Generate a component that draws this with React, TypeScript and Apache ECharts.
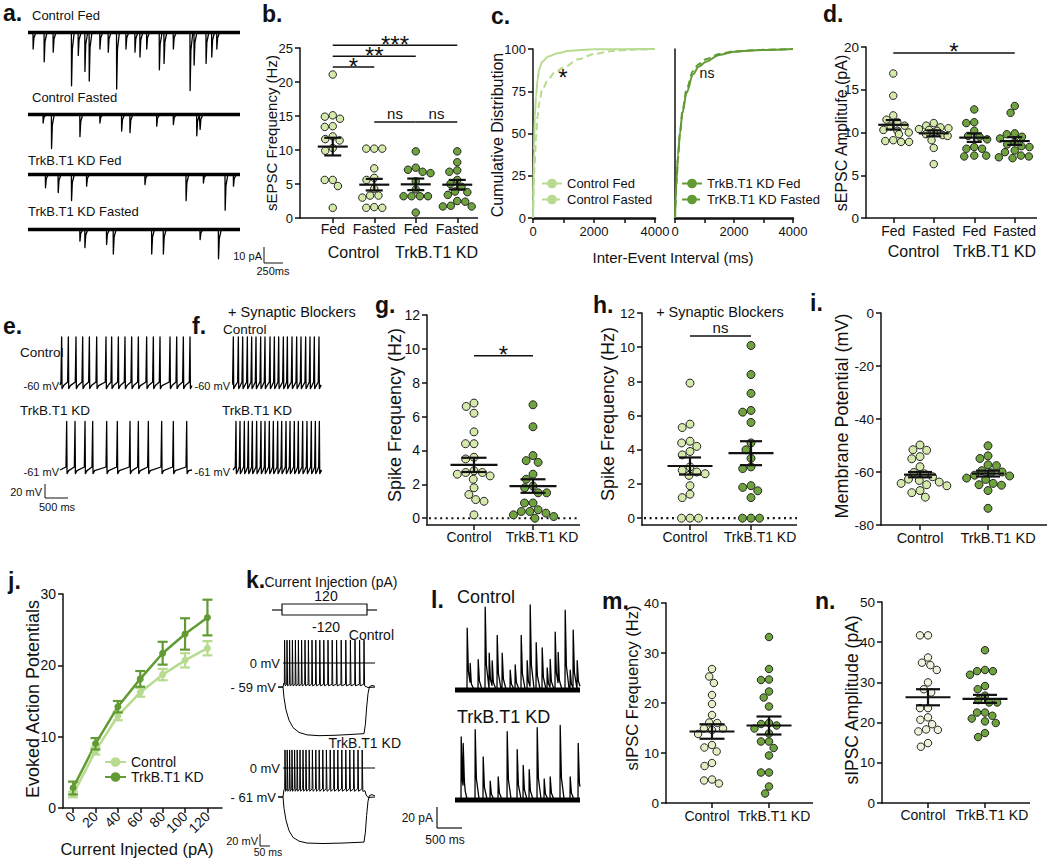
import React, { useEffect, useRef } from 'react';
import * as echarts from 'echarts';

const FONT = '"Liberation Sans", Arial, Helvetica, sans-serif';
const NARROW = '"Liberation Sans Narrow", "Liberation Sans", Arial, sans-serif';
const INK = '#111111';
const FILL_CTRL = '#d5e9ab';
const FILL_CTRL_M = '#e2eec4';
const FILL_CTRL_N = '#eef4dc';
const FILL_KD = '#6ea33d';
const LINE_CTRL = '#b7db8f';
const LINE_KD = '#629a34';

// ---------- a. sEPSC example traces: [time ms, amplitude pA] ----------
const aTraceLabels = ['Control Fed', 'Control Fasted', 'TrkB.T1 KD Fed', 'TrkB.T1 KD Fasted'];
const aControlFedEvents = [[66, 10], [212, 18], [331, 12], [573, 33], [662, 14], [750, 24], [807, 30], [948, 10], [1058, 12], [1169, 35], [1292, 10], [1411, 12], [1477, 15], [1566, 10], [1733, 23], [1795, 19], [1918, 10], [2139, 36], [2192, 20], [2350, 19], [2425, 15], [2492, 10]];
const aControlFastedEvents = [[198, 5], [309, 21], [684, 13.5], [948, 5], [1235, 10], [1345, 11], [1698, 7], [1918, 6], [2227, 13], [2271, 9]];
const aKdFedEvents = [[229, 8], [397, 11], [573, 16], [772, 7], [1543, 6], [2086, 16], [2315, 5], [2602, 22], [2712, 7]];
const aKdFastedEvents = [[684, 7], [750, 11], [1036, 9], [1125, 15], [1632, 15], [1786, 15], [2271, 6], [2514, 18]];

// ---------- b. sEPSC frequency (Hz) ----------
const bGroupKeys = ['Control Fed', 'Control Fasted', 'TrkB.T1 KD Fed', 'TrkB.T1 KD Fasted'];
const bTickLabels = ['Fed', 'Fasted', 'Fed', 'Fasted'];
const bGroupLabels = ['Control', 'TrkB.T1 KD'];
const bControlFed = [21.1, 15.1, 14.9, 14.6, 13.5, 13.4, 12.0, 11.6, 11.4, 10.3, 9.9, 5.6, 5.6, 4.7, 1.5];
const bControlFasted = [10.2, 10.2, 10.2, 7.3, 5.9, 5.6, 4.3, 3.3, 3.3, 3.0, 1.6, 1.5, 1.5];
const bKdFed = [9.8, 7.4, 7.1, 6.8, 6.6, 5.4, 4.2, 3.2, 3.2, 3.2, 3.2, 0.8];
const bKdFasted = [9.8, 8.2, 7.0, 6.8, 5.6, 5.0, 4.6, 3.9, 3.8, 3.4, 2.5, 2.4, 1.8, 1.7, 1.7];
const bMeans = [10.5, 4.9, 4.95, 4.9];
const bSems = [1.3, 0.85, 0.85, 0.7];
const bTicks = [0, 5, 10, 15, 20, 25];
const bSig = [[0, 1, 22.2], [0, 2, 23.8], [0, 3, 25.4], [1, 2, 14.1], [2, 3, 14.1]];
const bSigLabels = ['*', '**', '***', 'ns', 'ns'];

// ---------- c. cumulative distributions: [inter-event interval ms, %] ----------
const cControlFed = [[0, 0], [30, 40], [60, 60], [100, 72], [150, 82], [200, 88], [300, 92.5], [500, 95.5], [800, 97.5], [1200, 99], [2000, 99.8], [4000, 100]];
const cControlFasted = [[0, 0], [50, 30], [100, 48], [150, 60], [200, 68], [300, 76], [500, 82], [700, 86], [1000, 89], [1500, 94], [2000, 97], [2600, 98.8], [3200, 99.6], [4000, 100]];
const cKdFed = [[0, 0], [50, 22], [100, 37], [167, 50], [250, 62], [390, 74], [611, 85], [800, 89.5], [1055, 92.5], [1500, 96.5], [2000, 98.4], [2944, 99.4], [4000, 100]];
const cKdFasted = [[0, 0], [50, 20], [100, 35], [167, 50], [250, 63], [390, 76], [611, 87], [800, 91], [1055, 94], [1500, 97], [2000, 98.6], [2944, 99.5], [4000, 100]];
const cYTicks = [0, 25, 50, 75, 100];
const cXTicks = [0, 1000, 2000, 3000, 4000];
const cXLabels = [0, 2000, 4000];

// ---------- d. sEPSC amplitude (pA) ----------
const dControlFed = [16.9, 14.3, 12.0, 11.5, 11.2, 10.8, 10.7, 10.3, 10.2, 10.0, 9.8, 9.1, 9.0, 8.9, 8.9];
const dControlFasted = [11.1, 10.8, 10.6, 10.5, 10.4, 10.3, 10.2, 10.0, 9.8, 9.7, 9.6, 9.1, 8.2, 6.3];
const dKdFed = [12.7, 11.2, 11.1, 10.2, 9.6, 9.5, 9.2, 8.3, 8.1, 8.1, 7.3, 7.2, 7.3];
const dKdFasted = [13.1, 12.3, 9.9, 9.8, 9.5, 9.3, 8.9, 8.6, 8.4, 8.3, 7.9, 7.7, 7.3, 7.2, 7.1, 7.0];
const dMeans = [10.9, 9.9, 9.4, 9.0];
const dSems = [0.55, 0.35, 0.5, 0.45];
const dTicks = [0, 5, 10, 15, 20];
const dSig = [[0, 3, 19.3]];
const dSigLabels = ['*'];

// ---------- e / f. firing traces: spike times (ms) ----------
const eControlSpikes = [36, 181, 347, 492, 637, 796, 998, 1121, 1266, 1410, 1555, 1700, 1880, 2025, 2170, 2387, 2532, 2676, 2821];
const eKdSpikes = [145, 326, 543, 709, 1013, 1244, 1519, 1700, 1917, 2206, 2459, 2749];
const fControlSpikes = [7, 116, 210, 311, 405, 499, 600, 694, 803, 897, 991, 1092, 1179, 1280, 1381, 1475, 1576, 1670, 1764, 1865];
const fKdSpikes = [65, 152, 246, 333, 419, 513, 607, 694, 788, 875, 969, 1056, 1150, 1237, 1330, 1417, 1511, 1605, 1699, 1786, 1873];

// ---------- g / h. spike frequency (Hz) ----------
const twoGroups = ['Control', 'TrkB.T1 KD'];
const spikeTicks = [0, 2, 4, 6, 8, 10, 12];
const gControl = [6.8, 6.6, 6.2, 5.1, 4.4, 4.4, 3.6, 3.5, 2.8, 2.7, 2.7, 2.6, 2.5, 2.3, 1.8, 1.4, 1.1, 1.0, 0.2];
const gKd = [6.7, 5.4, 3.7, 3.4, 3.3, 2.6, 2.3, 1.9, 1.8, 1.5, 1.5, 0.9, 0.9, 0.5, 0.4, 0.4, 0.3, 0.2, 0.1, 0.0];
const gMeans = [3.15, 1.9];
const gSems = [0.42, 0.4];
const gSig = [[0, 1, 9.6]];
const gSigLabels = ['*'];
const hControl = [7.9, 5.5, 5.3, 4.5, 4.4, 4.2, 3.9, 3.7, 3.0, 2.8, 2.7, 2.6, 2.5, 1.9, 1.4, 1.2, 0, 0, 0];
const hKd = [10.1, 8.4, 7.3, 6.3, 6.2, 5.6, 4.4, 4.0, 3.5, 3.0, 2.9, 1.9, 1.8, 1.6, 1.2, 0, 0, 0];
const hMeans = [3.05, 3.8];
const hSems = [0.5, 0.7];
const hSig = [[0, 1, 10.65]];
const hSigLabels = ['ns'];

// ---------- i. membrane potential (mV) ----------
const iTicks = [-80, -60, -40, -20, 0];
const iControl = [-49.8, -51.6, -51.8, -54.2, -55.0, -58.0, -60.2, -60.7, -61.8, -62.7, -63.2, -63.8, -64.3, -64.8, -65.2, -67.0, -67.8, -69.5];
const iKd = [-50.1, -53.9, -54.9, -57.3, -57.6, -59.5, -60.0, -60.3, -61.2, -61.5, -62.3, -62.8, -64.3, -64.8, -65.0, -67.0, -73.7];
const iMeans = [-61.0, -60.6];
const iSems = [1.0, 1.1];

// ---------- j. evoked action potentials ----------
const jCurrents = [0, 20, 40, 60, 80, 100, 120];
const jControlMean = [1.9, 8.0, 12.9, 16.2, 18.7, 20.7, 22.4];
const jControlSem = [0.4, 0.5, 0.6, 0.6, 0.8, 1.0, 1.0];
const jKdMean = [2.8, 9.0, 14.2, 18.1, 21.7, 24.4, 26.7];
const jKdSem = [0.9, 0.8, 0.8, 1.1, 1.6, 2.2, 2.5];
const jYTicks = [0, 10, 20, 30];

// ---------- k. current injection traces (ms, mV) ----------
const kControlSpikes = [8, 20, 33, 47, 62, 77, 93, 110, 127, 145, 164, 184, 204, 225, 246, 268, 291, 314, 337, 360, 383, 405];
const kKdSpikes = [10, 21, 33, 45, 58, 71, 85, 100, 115, 131, 147, 164, 181, 199, 217, 236, 255, 274, 294, 314, 334, 354, 375, 396];
const kControlHyper = [[-25, -59], [0, -59], [5, -85], [15, -115], [30, -140], [50, -158], [80, -170], [120, -176], [180, -178], [260, -177], [340, -175], [405, -173], [412, -150], [418, -110], [425, -75], [432, -58], [445, -55], [460, -57]];
const kKdHyper = [[-25, -61], [0, -61], [5, -85], [15, -110], [30, -132], [50, -146], [80, -154], [120, -158], [200, -159], [300, -158], [405, -156], [412, -135], [418, -100], [425, -70], [432, -58], [445, -56], [460, -59]];

// ---------- l. sIPSC traces: [time ms, amplitude pA] ----------
const lControlEvents = [[240, 59], [300, 19], [460, 29], [600, 79], [680, 35], [740, 24], [840, 52], [940, 35], [1100, 19], [1200, 24], [1320, 52], [1440, 28], [1500, 78], [1620, 45], [1740, 40], [1840, 21], [1900, 27], [2000, 55], [2060, 30], [2200, 76], [2300, 19], [2360, 55], [2440, 28]];
const lKdEvents = [[120, 60], [160, 41], [400, 67], [560, 41], [700, 18], [860, 22], [1040, 65], [1240, 48], [1360, 33], [1480, 29], [1640, 69], [1780, 20], [1900, 22], [2100, 71], [2300, 22], [2460, 54]];

// ---------- m / n. sIPSC ----------
const mTicks = [0, 10, 20, 30, 40];
const mControl = [26.8, 25.3, 24.0, 21.6, 19.8, 17.6, 16.1, 16.0, 14.9, 14.9, 14.6, 13.8, 11.6, 11.1, 10.3, 8.0, 7.4, 4.7, 4.5, 3.9];
const mKd = [33.2, 26.8, 24.7, 24.6, 22.3, 21.1, 19.3, 16.0, 15.8, 15.5, 14.9, 13.9, 12.3, 12.3, 11.0, 9.5, 6.1, 6.1, 3.3, 1.9];
const mMeans = [14.3, 15.5];
const mSems = [1.45, 1.8];
const nTicks = [0, 10, 20, 30, 40, 50];
const nControl = [41.7, 41.7, 36.2, 34.9, 34.3, 33.1, 30.0, 28.3, 27.5, 23.6, 23.6, 21.3, 20.7, 19.6, 18.3, 18.2, 17.8, 14.9, 14.0];
const nKd = [38.0, 33.1, 32.8, 32.8, 31.9, 29.1, 28.3, 26.7, 25.6, 25.0, 25.0, 22.5, 22.5, 21.7, 21.0, 20.3, 19.9, 17.4, 16.4];
const nMeans = [26.3, 25.9];
const nSems = [2.0, 1.0];

// ---------- trace builders (shape templates applied to read event times) ----------
function eventTrace(events: number[][], tEnd: number, sign: number, rise: number, decay: number) {
  const set = new Set<number>([0, tEnd]);
  const d1 = decay * 0.3;
  events.forEach(([t0]) => [t0, t0 + rise, t0 + rise + d1, t0 + rise + decay].forEach((t) => { if (t >= 0 && t <= tEnd) set.add(t); }));
  const times = Array.from(set).sort((a, b) => a - b);
  const k = (dt: number) => {
    if (dt <= 0) return 0;
    if (dt <= rise) return dt / rise;
    const d = dt - rise;
    if (d <= d1) return 1 - (0.7 * d) / d1;
    if (d <= decay) return 0.3 * (1 - (d - d1) / (decay - d1));
    return 0;
  };
  return times.map((t) => [t, sign * events.reduce((s, [t0, a]) => s + a * k(t - t0), 0)]);
}

function apTrace(spikes: number[], p: any) {
  const pts: number[][] = [...p.head];
  spikes.forEach((t) => {
    pts.push([t - p.pre, p.thr]);
    pts.push([t, p.peak]);
    pts.push([t + p.post, p.ahp]);
    if (p.rec) pts.push([t + p.post + p.rec, p.recV]);
  });
  p.tail.forEach((pt: number[]) => pts.push(pt));
  return pts;
}

function buildOption() {
  const grid: any[] = [];
  const xAxis: any[] = [];
  const yAxis: any[] = [];
  const series: any[] = [];
  const graphic: any[] = [];
  const legend: any[] = [];

  const txt = (text: string, x: number, y: number, o: any = {}) => {
    const align = o.align || 'left';
    const va = o.verticalAlign || 'middle';
    graphic.push({
      type: 'text', x, y, silent: true, rotation: o.rotation || 0,
      style: {
        text, fill: INK, fontFamily: o.fontFamily || FONT, fontSize: o.fontSize || 14, fontWeight: o.fontWeight || 'normal',
        align, verticalAlign: va, textAlign: align, textVerticalAlign: va,
      },
    });
  };
  const ln = (x1: number, y1: number, x2: number, y2: number, w = 1.5, o: any = {}) => {
    graphic.push({ type: 'line', silent: true, shape: { x1, y1, x2, y2 }, style: { stroke: INK, lineWidth: w, ...o } });
  };
  const letter = (t: string, x: number, y: number) => txt(t, x, y, { fontSize: 23, fontWeight: 'bold', fontFamily: NARROW });
  const yName = (t: string, x: number, y: number, size: number) => txt(t, x, y, { rotation: Math.PI / 2, align: 'center', fontSize: size });

  const axisLineStyle = { color: INK, width: 1.5 };
  const plain = (v: any) => String(v);

  // ---------- dot panel ----------
  const addDotPanel = (s: any) => {
    const gi = grid.length;
    grid.push({ left: s.catLeft, top: s.top, width: s.catRight - s.catLeft, height: s.bottom - s.top, containLabel: false, outerBoundsMode: 'none' });
    const band = (s.catRight - s.catLeft) / s.keys.length;
    const shifts: number[] = s.labelShift || s.keys.map(() => 0);
    const rich: any = {};
    shifts.forEach((dx, i) => {
      rich['s' + i] = {
        fontSize: s.labelSize, fontFamily: FONT, color: INK,
        padding: [0, dx < 0 ? -2 * dx : 0, 0, dx > 0 ? 2 * dx : 0],
      };
    });
    const xi = xAxis.length;
    xAxis.push({
      gridIndex: gi, type: 'category', position: 'bottom', data: s.keys, boundaryGap: true,
      axisLine: { show: false, onZero: false },
      axisTick: { show: true, alignWithLabel: true, length: 5, inside: false, lineStyle: axisLineStyle },
      axisLabel: {
        show: true, interval: 0, margin: s.labelMargin, color: INK, fontFamily: FONT, fontSize: s.labelSize,
        formatter: (_v: any, i: number) => `{s${i}|${s.labels[i]}}`, rich,
      },
      splitLine: { show: false },
      jitter: band, jitterOverlap: false, jitterMargin: 0.5,
    });
    if (s.groupLabels) {
      xAxis.push({
        gridIndex: gi, type: 'category', position: 'bottom', data: s.groupLabels, boundaryGap: true,
        axisLine: { show: false, onZero: false }, axisTick: { show: false }, splitLine: { show: false },
        axisLabel: { show: true, interval: 0, margin: s.groupMargin, color: INK, fontFamily: FONT, fontSize: 16 },
      });
    }
    const yi = yAxis.length;
    yAxis.push({
      gridIndex: gi, type: 'value', min: s.min, max: s.max, offset: s.catLeft - s.axisX,
      axisLine: { show: true, onZero: false, lineStyle: axisLineStyle },
      axisTick: { show: true, length: 5, customValues: s.ticks, lineStyle: axisLineStyle },
      axisLabel: { show: true, customValues: s.ticks, margin: 7, color: INK, fontFamily: FONT, fontSize: s.tickSize, formatter: plain },
      splitLine: { show: false },
    });
    // x axis line spanning the whole axis extent
    ln(s.axisX - 0.75, s.bottom, s.xEnd, s.bottom, 1.5);
    if (s.zeroLine) {
      const y0 = s.bottom - ((0 - s.min) / (s.max - s.min)) * (s.bottom - s.top);
      ln(s.axisX + 2, y0, s.xEnd, y0, 2.2, { lineDash: [2, 3.6] });
    }
    s.groups.forEach((vals: number[], ci: number) => {
      series.push({
        type: 'scatter', name: `dots-${gi}-${ci}`, xAxisIndex: xi, yAxisIndex: yi,
        data: vals.map((v) => [s.keys[ci], v]), symbol: 'circle', symbolSize: s.symbolSize,
        itemStyle: { color: s.fills[ci], borderColor: '#262626', borderWidth: 1, opacity: 1 },
        z: 2, silent: true, animation: false,
      });
    });
    series.push({
      type: 'custom', name: `mean-${gi}`, xAxisIndex: xi, yAxisIndex: yi, z: 4, silent: true,
      data: s.means.map((m: number, i: number) => [i, m, s.sems[i]]),
      renderItem: (_p: any, api: any) => {
        const x = api.value(0), m = api.value(1), e = api.value(2);
        const c = api.coord([x, m]), t = api.coord([x, m + e]), b = api.coord([x, m - e]);
        const st = { stroke: INK, lineWidth: 2.2 };
        return {
          type: 'group', children: [
            { type: 'line', shape: { x1: c[0] - s.meanW / 2, y1: c[1], x2: c[0] + s.meanW / 2, y2: c[1] }, style: st },
            { type: 'line', shape: { x1: c[0] - s.semW / 2, y1: t[1], x2: c[0] + s.semW / 2, y2: t[1] }, style: st },
            { type: 'line', shape: { x1: c[0] - s.semW / 2, y1: b[1], x2: c[0] + s.semW / 2, y2: b[1] }, style: st },
            { type: 'line', shape: { x1: c[0], y1: t[1], x2: c[0], y2: b[1] }, style: st },
          ],
        };
      },
    });
    if (s.sig) {
      series.push({
        type: 'custom', name: `sig-${gi}`, xAxisIndex: xi, yAxisIndex: yi, z: 4, silent: true, clip: false,
        data: s.sig.map((r: number[]) => [r[0], r[2], r[1]]),
        renderItem: (p: any, api: any) => {
          const p1 = api.coord([api.value(0), api.value(1)]);
          const p2 = api.coord([api.value(2), api.value(1)]);
          const lab = s.sigLabels[p.dataIndex];
          const star = lab !== 'ns';
          return {
            type: 'group', children: [
              { type: 'line', shape: { x1: p1[0], y1: p1[1], x2: p2[0], y2: p2[1] }, style: { stroke: INK, lineWidth: 1.5 } },
              {
                type: 'text', x: (p1[0] + p2[0]) / 2, y: p1[1] - 1,
                style: {
                  text: lab, fill: INK, fontFamily: FONT, fontSize: star ? 24 : 15,
                  align: 'center', verticalAlign: star ? 'middle' : 'bottom', textAlign: 'center', textVerticalAlign: star ? 'middle' : 'bottom',
                },
              },
            ],
          };
        },
      });
    }
  };

  // ---------- trace grid ----------
  const addTraceGrid = (left: number, top: number, width: number, height: number, xr: number[], yr: number[]) => {
    const gi = grid.length;
    grid.push({ left, top, width, height, containLabel: false, outerBoundsMode: 'none' });
    const xi = xAxis.length;
    xAxis.push({ gridIndex: gi, type: 'value', min: xr[0], max: xr[1], show: false, splitLine: { show: false } });
    const yi = yAxis.length;
    yAxis.push({ gridIndex: gi, type: 'value', min: yr[0], max: yr[1], show: false, splitLine: { show: false } });
    return { xi, yi };
  };
  const addTrace = (ax: any, data: number[][], width: number, color = '#000') => {
    series.push({
      type: 'line', xAxisIndex: ax.xi, yAxisIndex: ax.yi, data, symbol: 'none', showSymbol: false,
      lineStyle: { color, width, join: 'round' }, silent: true, z: 3, clip: false,
    });
  };

  // ===== a =====
  letter('a.', 3, 13);
  const aEvents = [aControlFedEvents, aControlFastedEvents, aKdFedEvents, aKdFastedEvents];
  const aBaselines = [33, 115, 175, 230];
  const aLabelPos = [[32, 15], [32, 97], [28, 160], [28, 211]];
  aEvents.forEach((ev, i) => {
    const ax = addTraceGrid(28, aBaselines[i] - 6 * 1.6, 212, 44 * 1.6, [0, 2800], [-38, 6]);
    addTrace(ax, [[0, 0.3], [2800, 0.3]], 3.5);
    addTrace(ax, eventTrace(ev, 2800, -1, 2, 35), 1.3);
    txt(aTraceLabels[i], aLabelPos[i][0], aLabelPos[i][1], { fontFamily: NARROW, fontSize: 13 });
  });
  txt('10 pA', 262, 256, { fontFamily: NARROW, fontSize: 11, align: 'right' });
  ln(264, 247, 264, 263, 1);
  ln(264, 263, 283, 263, 1);
  txt('250ms', 273, 271, { fontFamily: NARROW, fontSize: 11, align: 'center' });

  // ===== b =====
  letter('b.', 262, 14);
  addDotPanel({
    axisX: 300, xEnd: 478, catLeft: 312, catRight: 478, top: 48, bottom: 218, min: 0, max: 25, ticks: bTicks,
    keys: bGroupKeys, labels: bTickLabels, groupLabels: bGroupLabels,
    groups: [bControlFed, bControlFasted, bKdFed, bKdFasted], fills: [FILL_CTRL, FILL_CTRL, FILL_KD, FILL_KD],
    means: bMeans, sems: bSems, meanW: 30, semW: 17, symbolSize: 7.5, sig: bSig, sigLabels: bSigLabels,
    labelSize: 14, tickSize: 13, labelMargin: 4, groupMargin: 26,
  });
  yName('sEPSC Frequency (Hz)', 271, 133, 15);

  // ===== c =====
  letter('c.', 491, 16);
  {
    const gi = grid.length;
    grid.push({ left: 533, top: 49, width: 122, height: 169, containLabel: false, outerBoundsMode: 'none' });
    const xi = xAxis.length;
    xAxis.push({
      gridIndex: gi, type: 'value', min: 0, max: 4000,
      axisLine: { show: true, onZero: false, lineStyle: { color: INK, width: 2.5 } },
      axisTick: { show: true, length: 5, customValues: cXTicks, lineStyle: axisLineStyle },
      axisLabel: { customValues: cXLabels, margin: 7, color: INK, fontFamily: FONT, fontSize: 13, formatter: plain },
      splitLine: { show: false },
    });
    const yi = yAxis.length;
    yAxis.push({
      gridIndex: gi, type: 'value', min: 0, max: 100,
      axisLine: { show: true, onZero: false, lineStyle: axisLineStyle },
      axisTick: { show: true, length: 5, customValues: cYTicks, lineStyle: axisLineStyle },
      axisLabel: { customValues: cYTicks, margin: 7, color: INK, fontFamily: FONT, fontSize: 13, formatter: plain },
      splitLine: { show: false },
    });
    series.push({ type: 'line', name: 'Control Fed', xAxisIndex: xi, yAxisIndex: yi, data: cControlFed, symbol: 'none', smooth: 0.3, smoothMonotone: 'x', lineStyle: { color: LINE_CTRL, width: 2 }, itemStyle: { color: LINE_CTRL }, z: 3 });
    series.push({ type: 'line', name: 'Control Fasted', xAxisIndex: xi, yAxisIndex: yi, data: cControlFasted, symbol: 'none', smooth: 0.3, smoothMonotone: 'x', lineStyle: { color: LINE_CTRL, width: 2, type: [7, 4] }, itemStyle: { color: LINE_CTRL }, z: 3 });

    const gi2 = grid.length;
    grid.push({ left: 675, top: 49, width: 118, height: 169, containLabel: false, outerBoundsMode: 'none' });
    const xi2 = xAxis.length;
    xAxis.push({
      gridIndex: gi2, type: 'value', min: 0, max: 4000,
      axisLine: { show: true, onZero: false, lineStyle: { color: INK, width: 2.5 } },
      axisTick: { show: true, length: 5, customValues: cXTicks, lineStyle: axisLineStyle },
      axisLabel: { customValues: cXLabels, margin: 7, color: INK, fontFamily: FONT, fontSize: 13, formatter: plain },
      splitLine: { show: false },
    });
    const yi2 = yAxis.length;
    yAxis.push({
      gridIndex: gi2, type: 'value', min: 0, max: 100,
      axisLine: { show: true, onZero: false, lineStyle: axisLineStyle }, axisTick: { show: false }, axisLabel: { show: false }, splitLine: { show: false },
    });
    series.push({ type: 'line', name: 'TrkB.T1 KD Fed', xAxisIndex: xi2, yAxisIndex: yi2, data: cKdFed, symbol: 'none', smooth: 0.3, smoothMonotone: 'x', lineStyle: { color: LINE_KD, width: 2 }, itemStyle: { color: LINE_KD }, z: 3 });
    series.push({ type: 'line', name: 'TrKB.T1 KD Fasted', xAxisIndex: xi2, yAxisIndex: yi2, data: cKdFasted, symbol: 'none', smooth: 0.3, smoothMonotone: 'x', lineStyle: { color: LINE_KD, width: 2, type: [7, 4] }, itemStyle: { color: LINE_KD }, z: 3 });
  }
  yName('Cumulative Distribution', 497, 135, 16);
  txt('Inter-Event Interval (ms)', 673, 257, { align: 'center', fontSize: 15 });
  txt('*', 563, 77, { align: 'center', fontSize: 24 });
  txt('ns', 707, 73, { align: 'center', fontSize: 14 });
  const legBase = { orient: 'horizontal', padding: 0, itemGap: 0, itemWidth: 20, itemHeight: 12, selectedMode: false, textStyle: { color: INK, fontFamily: FONT, fontSize: 13 } };
  legend.push({ ...legBase, data: ['Control Fed'], left: 541, top: 177 });
  legend.push({ ...legBase, data: ['Control Fasted'], left: 541, top: 193 });
  legend.push({ ...legBase, data: ['TrkB.T1 KD Fed'], left: 681, top: 177 });
  legend.push({ ...legBase, data: ['TrKB.T1 KD Fasted'], left: 681, top: 193 });

  // ===== d =====
  letter('d.', 823, 14);
  addDotPanel({
    axisX: 866, xEnd: 1037, catLeft: 873, catRight: 1035, top: 47, bottom: 218, min: 0, max: 20, ticks: dTicks,
    keys: bGroupKeys, labels: bTickLabels, groupLabels: bGroupLabels,
    groups: [dControlFed, dControlFasted, dKdFed, dKdFasted], fills: [FILL_CTRL, FILL_CTRL, FILL_KD, FILL_KD],
    means: dMeans, sems: dSems, meanW: 30, semW: 15, symbolSize: 7.5, sig: dSig, sigLabels: dSigLabels,
    labelSize: 14, tickSize: 13.5, labelMargin: 6, groupMargin: 25,
  });
  yName('sEPSC Amplitufe (pA)', 841, 133, 16);

  // ===== e =====
  letter('e.', 3, 326);
  const apE = (spikes: number[], end: number, base: number) => apTrace(spikes, {
    head: [[0, base]], pre: 15, thr: base + 5, peak: 20, post: 8, ahp: base - 6, rec: 35, recV: base - 1, tail: [[end, base]],
  });
  {
    const axC = addTraceGrid(60, 334, 132, 57, [0, 2864], [-70, 25]);
    addTrace(axC, apE(eControlSpikes, 2864, -60), 1.3);
    const axK = addTraceGrid(60, 418.4, 132, 57, [0, 2864], [-70, 25]);
    addTrace(axK, apE(eKdSpikes, 2864, -61), 1.3);
  }
  txt('Control', 20, 352, { fontSize: 13.5 });
  txt('TrkB.T1 KD', 20, 410, { fontSize: 13.5 });
  txt('-60 mV', 59, 386, { fontFamily: NARROW, fontSize: 11, align: 'right' });
  txt('-61 mV', 59, 472, { fontFamily: NARROW, fontSize: 11, align: 'right' });
  txt('20 mV', 42, 492, { fontFamily: NARROW, fontSize: 11, align: 'right' });
  ln(45, 484, 45, 498, 1);
  ln(45, 498, 68, 498, 1);
  txt('500 ms', 57, 507, { fontFamily: NARROW, fontSize: 11, align: 'center' });

  // ===== f =====
  letter('f.', 192, 326);
  {
    const axC = addTraceGrid(233, 334, 87, 57, [0, 1887], [-70, 25]);
    addTrace(axC, apE(fControlSpikes, 1887, -60), 1.3);
    const axK = addTraceGrid(233, 418.4, 87, 57, [0, 1887], [-70, 25]);
    addTrace(axK, apE(fKdSpikes, 1887, -61), 1.3);
  }
  txt('+ Synaptic Blockers', 228, 312, { fontSize: 14.5 });
  txt('Control', 223, 329, { fontSize: 13.5 });
  txt('TrkB.T1 KD', 222, 410, { fontSize: 13.5 });
  txt('-60 mV', 230, 386, { fontFamily: NARROW, fontSize: 11, align: 'right' });
  txt('-61 mV', 230, 472, { fontFamily: NARROW, fontSize: 11, align: 'right' });

  // ===== g =====
  letter('g.', 375, 305);
  addDotPanel({
    axisX: 427, xEnd: 580, catLeft: 444.5, catRight: 562.5, top: 315, bottom: 525, min: -0.4, max: 12, ticks: spikeTicks,
    keys: twoGroups, labels: twoGroups, groups: [gControl, gKd], fills: [FILL_CTRL, FILL_KD],
    means: gMeans, sems: gSems, meanW: 47, semW: 25, symbolSize: 8, sig: gSig, sigLabels: gSigLabels, zeroLine: true,
    labelSize: 14, tickSize: 14, labelMargin: 5, labelShift: [-5, 9],
  });
  yName('Spike Frequency (Hz)', 395, 415, 18);

  // ===== h =====
  letter('h.', 593, 305);
  addDotPanel({
    axisX: 642, xEnd: 797, catLeft: 659.5, catRight: 781.5, top: 313, bottom: 525, min: -0.4, max: 12, ticks: spikeTicks,
    keys: twoGroups, labels: twoGroups, groups: [hControl, hKd], fills: [FILL_CTRL, FILL_KD],
    means: hMeans, sems: hSems, meanW: 45, semW: 22, symbolSize: 8, sig: hSig, sigLabels: hSigLabels, zeroLine: true,
    labelSize: 14, tickSize: 13.5, labelMargin: 5, labelShift: [-5, 9],
  });
  yName('Spike Frequency (Hz)', 608, 414, 18);
  txt('+ Synaptic Blockers', 720, 312, { align: 'center', fontSize: 14.5 });

  // ===== i =====
  letter('i.', 810, 303);
  addDotPanel({
    axisX: 881, xEnd: 1047, catLeft: 886, catRight: 1022, top: 313, bottom: 525, min: -80, max: 0, ticks: iTicks,
    keys: twoGroups, labels: twoGroups, groups: [iControl, iKd], fills: [FILL_CTRL, FILL_KD],
    means: iMeans, sems: iSems, meanW: 32, semW: 24, symbolSize: 8,
    labelSize: 14.5, tickSize: 13.5, labelMargin: 5, labelShift: [0, 10],
  });
  yName('Membrane Potential (mV)', 842, 416, 18);

  // ===== j =====
  letter('j.', 8, 581);
  {
    const gi = grid.length;
    grid.push({ left: 63, top: 594, width: 159, height: 214, containLabel: false, outerBoundsMode: 'none' });
    const xi = xAxis.length;
    xAxis.push({
      gridIndex: gi, type: 'value', min: -9, max: 133,
      axisLine: { show: true, onZero: false, lineStyle: axisLineStyle },
      axisTick: { show: true, length: 5, customValues: jCurrents, lineStyle: axisLineStyle },
      axisLabel: { customValues: jCurrents, rotate: 45, margin: 6, color: INK, fontFamily: FONT, fontSize: 14, formatter: plain },
      splitLine: { show: false },
    });
    const yi = yAxis.length;
    yAxis.push({
      gridIndex: gi, type: 'value', min: 0, max: 30,
      axisLine: { show: true, onZero: false, lineStyle: axisLineStyle },
      axisTick: { show: true, length: 5, customValues: jYTicks, lineStyle: axisLineStyle },
      axisLabel: { customValues: jYTicks, margin: 7, color: INK, fontFamily: FONT, fontSize: 14, formatter: plain },
      splitLine: { show: false },
    });
    const groups = [
      { name: 'Control', mean: jControlMean, sem: jControlSem, color: LINE_CTRL },
      { name: 'TrkB.T1 KD', mean: jKdMean, sem: jKdSem, color: LINE_KD },
    ];
    groups.forEach((g) => {
      series.push({
        type: 'line', name: g.name, xAxisIndex: xi, yAxisIndex: yi, data: jCurrents.map((c, i) => [c, g.mean[i]]),
        symbol: 'circle', symbolSize: 7, showSymbol: true, lineStyle: { color: g.color, width: 2.5 }, itemStyle: { color: g.color }, z: 3, silent: true,
      });
      series.push({
        type: 'custom', name: `${g.name}-err`, xAxisIndex: xi, yAxisIndex: yi, z: 4, silent: true,
        data: jCurrents.map((c, i) => [c, g.mean[i], g.sem[i]]),
        renderItem: (_p: any, api: any) => {
          const x = api.value(0), m = api.value(1), e = api.value(2);
          const t = api.coord([x, m + e]), b = api.coord([x, m - e]);
          const st = { stroke: g.color, lineWidth: 2.2 };
          return {
            type: 'group', children: [
              { type: 'line', shape: { x1: t[0], y1: t[1], x2: b[0], y2: b[1] }, style: st },
              { type: 'line', shape: { x1: t[0] - 5, y1: t[1], x2: t[0] + 5, y2: t[1] }, style: st },
              { type: 'line', shape: { x1: b[0] - 5, y1: b[1], x2: b[0] + 5, y2: b[1] }, style: st },
            ],
          };
        },
      });
    });
  }
  yName('Evoked Action Potentials', 33, 699, 18);
  txt('Current Injected (pA)', 137, 849, { align: 'center', fontSize: 16.5 });
  const legJ = { orient: 'horizontal', padding: 0, itemGap: 0, itemWidth: 21, itemHeight: 12, selectedMode: false, textStyle: { color: INK, fontFamily: FONT, fontSize: 14 } };
  legend.push({ ...legJ, data: ['Control'], left: 104, top: 755 });
  legend.push({ ...legJ, data: ['TrkB.T1 KD'], left: 104, top: 770 });

  // ===== k =====
  letter('k.', 246, 580);
  txt('Current Injection (pA)', 331, 582, { align: 'center', fontSize: 14 });
  txt('120', 326, 596, { align: 'center', fontSize: 14 });
  graphic.push({ type: 'rect', silent: true, shape: { x: 282, y: 604, width: 85, height: 11 }, style: { fill: 'none', stroke: INK, lineWidth: 1.2 } });
  ln(272, 610, 282, 610, 1.2);
  ln(367, 610, 377, 610, 1.2);
  txt('-120', 326, 627, { align: 'center', fontSize: 14 });
  {
    const axC = addTraceGrid(278, 638.5, 97, 98, [-25, 460], [-180, 60]);
    addTrace(axC, [[0, 0], [460, 0]], 1.2);
    addTrace(axC, kControlHyper, 1);
    addTrace(axC, apTrace(kControlSpikes, {
      head: [[-25, -59], [0, -59], [4, -50]], pre: 1.5, thr: -52, peak: 56, post: 3, ahp: -56,
      tail: [[410, -55], [416, -58], [425, -60], [460, -59]],
    }), 1);
    const axK = addTraceGrid(278, 749, 97, 95, [-25, 460], [-160, 40]);
    addTrace(axK, [[0, 0], [460, 0]], 1.2);
    addTrace(axK, kKdHyper, 1);
    addTrace(axK, apTrace(kKdSpikes, {
      head: [[-25, -61], [0, -61], [5, -45]], pre: 1.5, thr: -44, peak: 38, post: 3, ahp: -49,
      tail: [[410, -48], [416, -57], [425, -62], [460, -61]],
    }), 1);
  }
  txt('Control', 394, 635, { align: 'right', fontSize: 14 });
  txt('0 mV', 280, 663, { align: 'right', fontSize: 13 });
  txt('- 59 mV', 276, 687, { align: 'right', fontSize: 13 });
  txt('TrkB.T1 KD', 401, 743, { align: 'right', fontSize: 14 });
  txt('0 mV', 280, 768, { align: 'right', fontSize: 13 });
  txt('- 61 mV', 276, 797, { align: 'right', fontSize: 13 });
  txt('20 mV', 258, 841, { fontFamily: NARROW, fontSize: 11, align: 'right' });
  ln(260, 834, 260, 846, 1);
  ln(260, 846, 270, 846, 1);
  txt('50 ms', 268, 852, { fontFamily: NARROW, fontSize: 10.5, align: 'center' });

  // ===== l =====
  letter('l.', 431, 600);
  {
    const axC = addTraceGrid(455, 600.75, 125, 101.85, [0, 2500], [-12, 85]);
    addTrace(axC, [[0, 0], [2500, 0]], 5);
    addTrace(axC, eventTrace(lControlEvents, 2500, 1, 4, 80), 1.3);
    const axK = addTraceGrid(455, 721.25, 125, 91.35, [0, 2500], [-12, 75]);
    addTrace(axK, [[0, 0], [2500, 0]], 5);
    addTrace(axK, eventTrace(lKdEvents, 2500, 1, 4, 80), 1.3);
  }
  txt('Control', 457, 597, { fontSize: 18 });
  txt('TrkB.T1 KD', 457, 717, { fontSize: 18 });
  txt('20 pA', 433, 818, { fontFamily: NARROW, fontSize: 12, align: 'right' });
  ln(437, 807, 437, 828, 1.2);
  ln(437, 828, 462, 828, 1.2);
  txt('500 ms', 445, 840, { fontFamily: NARROW, fontSize: 12, align: 'center' });

  // ===== m =====
  letter('m.', 602, 601);
  addDotPanel({
    axisX: 666, xEnd: 813, catLeft: 683.5, catRight: 797.5, top: 603, bottom: 803, min: 0, max: 40, ticks: mTicks,
    keys: twoGroups, labels: twoGroups, groups: [mControl, mKd], fills: [FILL_CTRL_M, FILL_KD],
    means: mMeans, sems: mSems, meanW: 45, semW: 25, symbolSize: 7.5,
    labelSize: 14, tickSize: 13.5, labelMargin: 6, labelShift: [-5, 5],
  });
  yName('sIPSC Frequency (Hz)', 632, 688, 16.5);

  // ===== n =====
  letter('n.', 815, 601);
  addDotPanel({
    axisX: 882, xEnd: 1030, catLeft: 899.5, catRight: 1013.5, top: 602, bottom: 803, min: 0, max: 50, ticks: nTicks,
    keys: twoGroups, labels: twoGroups, groups: [nControl, nKd], fills: [FILL_CTRL_N, FILL_KD],
    means: nMeans, sems: nSems, meanW: 45, semW: 24, symbolSize: 7.5,
    labelSize: 14, tickSize: 13.5, labelMargin: 5, labelShift: [-5, 7],
  });
  yName('sIPSC Amplitude (pA)', 852, 700, 17.5);

  return {
    animation: false,
    backgroundColor: '#ffffff',
    textStyle: { fontFamily: FONT, color: INK },
    tooltip: { show: false },
    grid, xAxis, yAxis, series, legend, graphic,
  };
}

export default function App() {
  const ref = useRef<HTMLDivElement>(null);
  useEffect(() => {
    if (!ref.current) return;
    const chart = echarts.init(ref.current, null, { renderer: 'svg' });
    chart.setOption(buildOption() as any);
    return () => chart.dispose();
  }, []);
  return <div ref={ref} style={{ position: 'absolute', left: 0, top: 0, width: 1050, height: 859, background: '#fff' }} />;
}
